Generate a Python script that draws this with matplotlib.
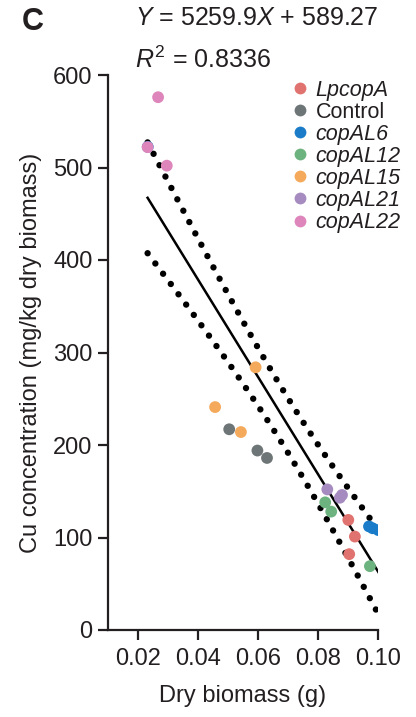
import numpy as np
import matplotlib
matplotlib.use("Agg")
import matplotlib.pyplot as plt
from matplotlib.lines import Line2D

plt.rcParams['font.family'] = ['Liberation Sans', 'DejaVu Sans']
plt.rcParams['mathtext.fontset'] = 'custom'
plt.rcParams['mathtext.rm'] = 'Liberation Sans'
plt.rcParams['mathtext.it'] = 'Liberation Sans:italic'

groups = ["LpcopA", "Control", "copAL6", "copAL12", "copAL15", "copAL21", "copAL22"]
italic = [True, False, True, True, True, True, True]
colors = ["#E0736F", "#6E7576", "#1A7CC8", "#6DB37F", "#F5A95B", "#A58BC0", "#DE86BB"]

x_LpcopA = [0.0901, 0.0923, 0.0904]
y_LpcopA = [119, 101, 82]
x_Control = [0.0504, 0.0598, 0.0630]
y_Control = [217, 194, 186]
x_copAL6 = [0.02325, 0.0970, 0.0982, 0.1001]
y_copAL6 = [522.3, 112, 110, 108]
x_copAL12 = [0.0824, 0.0844, 0.0973]
y_copAL12 = [138, 128, 69]
x_copAL15 = [0.0592, 0.0457, 0.0543]
y_copAL15 = [284, 241, 214]
x_copAL21 = [0.0831, 0.0873, 0.0880]
y_copAL21 = [152, 143, 146]
x_copAL22 = [0.0267, 0.0232, 0.0296]
y_copAL22 = [576, 522, 502]

SLOPE = -5259.9
INTERCEPT = 589.27
R2 = 0.8336
T95 = 2.086

xs = [x_LpcopA, x_Control, x_copAL6, x_copAL12, x_copAL15, x_copAL21, x_copAL22]
ys = [y_LpcopA, y_Control, y_copAL6, y_copAL12, y_copAL15, y_copAL21, y_copAL22]

fig = plt.figure(figsize=(4.16, 7.17), dpi=100)
ax = fig.add_axes([108/416, 1-630/717, (378-108)/416, (630-75)/717])

allx = np.concatenate([np.array(v, float) for v in xs])
ally = np.concatenate([np.array(v, float) for v in ys])
n = len(allx)
sstot = np.sum((ally - ally.mean())**2)
s = np.sqrt((1 - R2)*sstot/(n-2))
xbar = allx.mean()
sxx = np.sum((allx-xbar)**2)
xl = np.linspace(allx.min(), allx.max(), 200)
yl = SLOPE*xl + INTERCEPT
hw = T95*s*np.sqrt(1/n + (xl-xbar)**2/sxx)

ax.plot(xl, yl, color='black', lw=1.8, zorder=2)
for sign in (1, -1):
    ax.plot(xl, yl + sign*hw, color='black', lw=4.6, linestyle=(0, (0.01, 2.0)),
            dash_capstyle='round', zorder=2)

for g, xv, yv, c in zip(groups, xs, ys, colors):
    ax.scatter(xv, yv, s=72, color=c, edgecolors='none', zorder=3)

ax.set_xlim(0.01, 0.10)
ax.set_ylim(0, 600)
ax.set_xticks([0.02, 0.04, 0.06, 0.08, 0.10])
ax.set_xticklabels(["0.02", "0.04", "0.06", "0.08", "0.10"])
ax.set_yticks([0, 100, 200, 300, 400, 500, 600])
for sp in ['top', 'right']:
    ax.spines[sp].set_visible(False)
for sp in ['left', 'bottom']:
    ax.spines[sp].set_linewidth(1.6)
    ax.spines[sp].set_color('#231f20')
ax.tick_params(axis='both', direction='out', length=7, width=1.6, labelsize=17,
               color='#231f20', labelcolor='#231f20')
ax.tick_params(axis='x', pad=6)
ax.tick_params(axis='y', pad=4)
ax.set_xlabel("Dry biomass (g)", fontsize=17, labelpad=11, color='#231f20')
ax.set_ylabel("Cu concentration (mg/kg dry biomass)", fontsize=17, labelpad=8, color='#231f20')

handles = [Line2D([], [], marker='o', linestyle='none', markersize=8.5, color=c, markeredgewidth=0)
           for c in colors]
leg = ax.legend(handles, groups, loc='upper left', bbox_to_anchor=(278/416, 1-71/717),
                bbox_transform=fig.transFigure, frameon=False, fontsize=15.5,
                handletextpad=0.15, labelspacing=0.05, borderaxespad=0, handlelength=1.2)
for t, it in zip(leg.get_texts(), italic):
    t.set_color('#231f20')
    if it:
        t.set_style('italic')

fig.text(22/416, 1-22/717, "C", fontsize=22, fontweight='bold', va='center', ha='left', color='#231f20')
fig.text(135/416, 1-18/717, r"$\it{Y}$ = %.1f$\it{X}$ + %.2f" % (-SLOPE, INTERCEPT),
         fontsize=18, va='center', ha='left', color='#231f20')
fig.text(135/416, 1-60/717, r"$\it{R}^{2}$ = %.4f" % R2,
         fontsize=18, va='center', ha='left', color='#231f20')

fig.savefig("out.png", dpi=100)
